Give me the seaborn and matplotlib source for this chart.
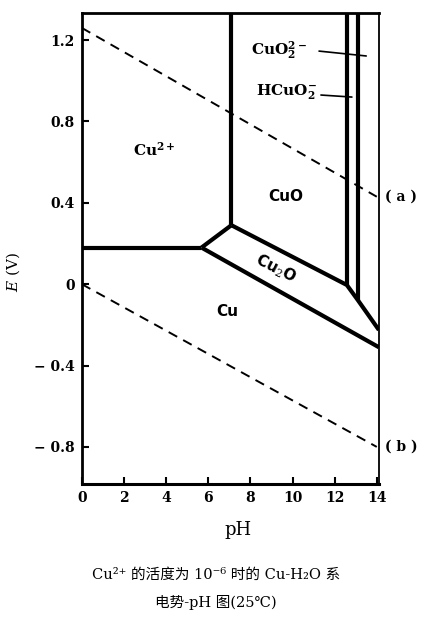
import numpy as np
import pandas as pd
import seaborn as sns
import matplotlib.pyplot as plt

# axis ticks
x_ticks = [0, 2, 4, 6, 8, 10, 12, 14]
y_ticks = [1.2, 0.8, 0.4, 0.0, -0.4, -0.8]
y_ticklabels = ['1.2', '0.8', '0.4', '0', '\u2212 0.4', '\u2212 0.8']

# water stability lines (a) and (b)
ph_a = [0.0, 14.0]
e_a = [1.26, 0.43]
ph_b = [0.0, 14.0]
e_b = [0.0, -0.80]

# phase boundaries (pH, E)
cu_cu2 = ([0.0, 5.68], [0.18, 0.18])
cu2_cu2o = ([5.68, 7.10], [0.18, 0.29])
cu2_cuo = ([7.10, 7.10], [0.29, 1.34])
cuo_cu2o = ([7.10, 12.58, 13.10, 14.1], [0.29, -0.004, -0.078, -0.225])
cu2o_cu = ([5.68, 14.1], [0.18, -0.31])
cuo_hcuo2 = ([12.58, 12.58], [-0.004, 1.34])
hcuo2_cuo2 = ([13.10, 13.10], [-0.078, 1.34])
boundaries = [cu_cu2, cu2_cu2o, cu2_cuo, cuo_cu2o, cu2o_cu, cuo_hcuo2, hcuo2_cuo2]

sns.set_theme(style='ticks')
plt.rcParams['font.family'] = ['DejaVu Serif', 'Noto Sans CJK SC']
plt.rcParams['mathtext.fontset'] = 'dejavuserif'
plt.rcParams['text.color'] = 'black'
plt.rcParams['axes.labelcolor'] = 'black'
plt.rcParams['xtick.color'] = 'black'
plt.rcParams['ytick.color'] = 'black'

fig = plt.figure(figsize=(4.33, 6.22), dpi=100)
ax = fig.add_axes([0.189, 0.222, 0.686, 0.757])

for ph, e in boundaries:
    sns.lineplot(x=ph, y=e, ax=ax, color='black', linewidth=3.0,
                 sort=False, estimator=None, solid_capstyle='butt')

for ph, e in [(ph_a, e_a), (ph_b, e_b)]:
    sns.lineplot(x=ph, y=e, ax=ax, color='black', linewidth=1.4,
                 linestyle=(0, (5, 3.5)), sort=False, estimator=None)

ax.set_xlim(0, 14.1)
ax.set_ylim(-0.982, 1.333)
ax.set_xticks(x_ticks)
ax.set_yticks(y_ticks)
ax.set_yticklabels(y_ticklabels)
ax.tick_params(direction='in', length=5, width=1.5, labelsize=10, pad=5)
for lab in ax.get_xticklabels() + ax.get_yticklabels():
    lab.set_fontweight('bold')

for side, w in [('left', 2.0), ('bottom', 2.2), ('top', 2.0), ('right', 1.3)]:
    ax.spines[side].set_visible(True)
    ax.spines[side].set_linewidth(w)
    ax.spines[side].set_color('black')

ax.set_xlabel('pH', fontsize=13)
ax.xaxis.set_label_coords(0.527, -0.078)
ax.set_ylabel(r'$E$ (V)', fontsize=11)
ax.yaxis.set_label_coords(-0.20, 0.45)

# region labels
ax.text(3.45, 0.66, r'$\mathbf{Cu^{2+}}$', fontsize=11, ha='center', va='center')
ax.text(9.7, 0.43, 'CuO', fontsize=11, fontweight='bold', family='DejaVu Sans',
        ha='center', va='center')
ax.text(9.2, 0.075, r'Cu$_{2}$O', fontsize=11, fontweight='bold', family='DejaVu Sans',
        ha='center', va='center', rotation=-27)
ax.text(6.9, -0.135, 'Cu', fontsize=11, fontweight='bold', family='DejaVu Sans',
        ha='center', va='center')
ax.text(9.35, 1.15, r'$\mathbf{CuO_2^{2-}}$', fontsize=11, ha='center', va='center')
ax.text(9.7, 0.945, r'$\mathbf{HCuO_2^{-}}$', fontsize=11, ha='center', va='center')

# leader lines
sns.lineplot(x=[11.26, 13.5], y=[1.146, 1.122], ax=ax, color='black', linewidth=1.2,
             sort=False, estimator=None)
sns.lineplot(x=[11.35, 12.82], y=[0.93, 0.92], ax=ax, color='black', linewidth=1.2,
             sort=False, estimator=None)

ax.text(15.15, 0.43, '( a )', fontsize=10, fontweight='bold', ha='center', va='center',
        clip_on=False)
ax.text(15.15, -0.80, '( b )', fontsize=10, fontweight='bold', ha='center', va='center',
        clip_on=False)

fig.text(0.499, 0.0756, 'Cu²⁺ 的活度为 10⁻⁶ 时的 Cu-H₂O 系', fontsize=10.5,
         ha='center', va='center')
fig.text(0.499, 0.032, '电势-pH 图(25℃)', fontsize=10.5, ha='center', va='center')

fig.savefig('out.png', dpi=100)
